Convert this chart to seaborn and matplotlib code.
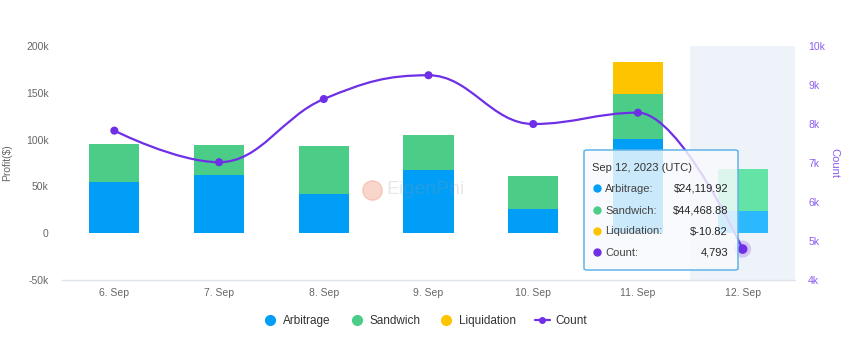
import numpy as np
import pandas as pd
import matplotlib
matplotlib.use("Agg")
import matplotlib.pyplot as plt
import seaborn as sns
from matplotlib.path import Path
from matplotlib.patches import PathPatch, FancyBboxPatch, Rectangle
from matplotlib.lines import Line2D

# ---------------- data ----------------
days = ["6. Sep", "7. Sep", "8. Sep", "9. Sep", "10. Sep", "11. Sep", "12. Sep"]
arbitrage = [55000, 61700, 41800, 67500, 25700, 100700, 24119.92]
sandwich = [39900, 32600, 51400, 37800, 35000, 48300, 44468.88]
liquidation = [0, 0, 0, 0, 0, 34200, -10.82]
count = [7830, 7020, 8640, 9250, 8000, 8290, 4793]
profit_ticks = [-50000, 0, 50000, 100000, 150000, 200000]
profit_tick_labels = ["-50k", "0", "50k", "100k", "150k", "200k"]
count_ticks = [4000, 5000, 6000, 7000, 8000, 9000, 10000]
count_tick_labels = ["4k", "5k", "6k", "7k", "8k", "9k", "10k"]
tooltip_title = "Sep 12, 2023 (UTC)"
tooltip_labels = ["Arbitrage:", "Sandwich:", "Liquidation:", "Count:"]
tooltip_values = ["$24,119.92", "$44,468.88", "$-10.82", "4,793"]

# ---------------- style ----------------
sns.set_theme(style="white")
plt.rcParams["font.family"] = ["Liberation Sans", "DejaVu Sans"]

C_ARB = "#019ef7"
C_SAND = "#4bcd88"
C_LIQ = "#fec400"
C_CNT = "#6f2fe6"
C_ARB_H = "#2cb8fc"
C_SAND_H = "#64e3a6"
GRAY = "#666666"

W, H = 850, 342
fig = plt.figure(figsize=(W / 100, H / 100), dpi=100)
fx = lambda px: px / W
fy = lambda py: 1 - py / H
ax = fig.add_axes([fx(62), fy(280), fx(795) - fx(62), fy(46) - fy(280)])

df = pd.DataFrame({"day": days,
                   "arb": arbitrage,
                   "sand": np.array(arbitrage) + np.array(sandwich),
                   "liq": np.array(arbitrage) + np.array(sandwich) + np.array(liquidation)})

bw = 0.48
sns.barplot(data=df, x="day", y="liq", color=C_LIQ, width=bw, ax=ax, saturation=1, zorder=2)
sns.barplot(data=df, x="day", y="sand", color=C_SAND, width=bw, ax=ax, saturation=1, zorder=3)
sns.barplot(data=df, x="day", y="arb", color=C_ARB, width=bw, ax=ax, saturation=1, zorder=4)
n = len(days)
for p in ax.patches:
    if not isinstance(p, Rectangle):
        continue
    p.set_linewidth(0)
    cx = p.get_x() + p.get_width() / 2
    if abs(cx - (n - 1)) < 0.01:
        fc = matplotlib.colors.to_hex(p.get_facecolor())
        if fc == C_SAND:
            p.set_facecolor(C_SAND_H)
        elif fc == C_ARB:
            p.set_facecolor(C_ARB_H)

# hover band
ax.axvspan(n - 1.5, n - 0.5, color="#eef2f9", zorder=0, lw=0)

ax.set_xlim(-0.5, n - 0.5)
ax.set_ylim(-50000, 200000)
ax.set_yticks(profit_ticks)
ax.set_yticklabels(profit_tick_labels)
ax.set_xlabel("")
ax.set_ylabel("Profit($)", color=GRAY, fontsize=7.5)
ax.yaxis.set_label_coords(-0.068, 0.5)
ax.tick_params(axis="y", length=0, pad=9.5, labelsize=7.5, labelcolor=GRAY)
ax.tick_params(axis="x", length=0, pad=6, labelsize=7.5, labelcolor=GRAY)
for s in ["top", "left", "right"]:
    ax.spines[s].set_visible(False)
ax.spines["bottom"].set_color("#dfe3ea")
ax.spines["bottom"].set_linewidth(1)

# ---------------- count line (secondary axis) ----------------
ax2 = ax.twinx()
ax2.set_ylim(4000, 10000)
ax2.set_yticks(count_ticks)
ax2.set_yticklabels(count_tick_labels)
ax2.tick_params(axis="y", length=0, pad=9.5, labelsize=7.5, labelcolor="#8a5cf0")
for s in ["top", "left", "right", "bottom"]:
    ax2.spines[s].set_visible(False)
ax2.set_ylabel("Count", color="#8a5cf0", fontsize=8, rotation=270)
ax2.yaxis.set_label_coords(1.06, 0.5)

xs = np.arange(n, dtype=float)
ys = np.array(count, dtype=float)

def spline_path(xs, ys, smoothing=1.5):
    denom = smoothing + 1
    m = len(xs)
    lc = [None] * m
    rc = [None] * m
    for i in range(1, m - 1):
        px, py = xs[i], ys[i]
        lx, ly = xs[i - 1], ys[i - 1]
        nx, ny = xs[i + 1], ys[i + 1]
        lcx = (smoothing * px + lx) / denom
        lcy = (smoothing * py + ly) / denom
        rcx = (smoothing * px + nx) / denom
        rcy = (smoothing * py + ny) / denom
        if rcx != lcx:
            corr = ((rcy - lcy) * (rcx - px)) / (rcx - lcx) + py - rcy
            lcy += corr
            rcy += corr
        if lcy > ly and lcy > py:
            lcy = max(ly, py); rcy = 2 * py - lcy
        elif lcy < ly and lcy < py:
            lcy = min(ly, py); rcy = 2 * py - lcy
        if rcy > ny and rcy > py:
            rcy = max(ny, py); lcy = 2 * py - rcy
        elif rcy < ny and rcy < py:
            rcy = min(ny, py); lcy = 2 * py - rcy
        lc[i] = (lcx, lcy)
        rc[i] = (rcx, rcy)
    verts = [(xs[0], ys[0])]
    codes = [Path.MOVETO]
    for i in range(1, m):
        c1 = rc[i - 1] if rc[i - 1] is not None else (xs[i - 1], ys[i - 1])
        c2 = lc[i] if lc[i] is not None else (xs[i], ys[i])
        verts += [c1, c2, (xs[i], ys[i])]
        codes += [Path.CURVE4] * 3
    return Path(verts, codes)

ax2.add_patch(PathPatch(spline_path(xs, ys), fill=False, edgecolor=C_CNT, lw=1.6, zorder=5))
sns.scatterplot(x=xs[:-1], y=ys[:-1], color=C_CNT, s=34, edgecolor="none", ax=ax2, zorder=6)
ax2.scatter([xs[-1]], [ys[-1]], s=150, color=C_CNT, alpha=0.22, edgecolor="none", zorder=6)
ax2.scatter([xs[-1]], [ys[-1]], s=48, color=C_CNT, edgecolor="none", zorder=7)

# ---------------- watermark ----------------
fig.add_artist(Line2D([fx(372)], [fy(190)], marker="o", markersize=14, color="#f08a6a",
                      alpha=0.35, linestyle="none", transform=fig.transFigure, zorder=10))
fig.text(fx(386), fy(190), "EigenPhi", fontsize=14, color="#999999", alpha=0.22,
         va="center", ha="left", zorder=10)

# ---------------- tooltip ----------------
box = FancyBboxPatch((fx(584), fy(270)), fx(738) - fx(584), fy(150) - fy(270),
                     boxstyle="round,pad=0,rounding_size=0.004", transform=fig.transFigure,
                     facecolor="#f8fafd", alpha=0.82, edgecolor="none", zorder=20)
fig.add_artist(box)
border = FancyBboxPatch((fx(584), fy(270)), fx(738) - fx(584), fy(150) - fy(270),
                        boxstyle="round,pad=0,rounding_size=0.004", transform=fig.transFigure,
                        facecolor="none", edgecolor="#62b4e6", lw=1.1, zorder=21)
fig.add_artist(border)
fig.text(fx(592), fy(167), tooltip_title, fontsize=8, color="#333333", va="center_baseline",
         ha="left", zorder=22)
row_y = [187.5, 209.5, 230.5, 251.5]
row_c = [C_ARB, C_SAND, C_LIQ, C_CNT]
for yy, lab, val, col in zip(row_y, tooltip_labels, tooltip_values, row_c):
    fig.add_artist(Line2D([fx(597)], [fy(yy)], marker="o", markersize=5, color=col,
                          linestyle="none", transform=fig.transFigure, zorder=22))
    fig.text(fx(605), fy(yy), lab, fontsize=8, color="#444444", va="center_baseline",
             ha="left", zorder=22)
    fig.text(fx(728), fy(yy), val, fontsize=8, color="#222222", va="center_baseline",
             ha="right", zorder=22)

# ---------------- legend ----------------
handles = [
    Line2D([], [], marker="o", linestyle="none", color=C_ARB, markersize=7),
    Line2D([], [], marker="o", linestyle="none", color=C_SAND, markersize=7),
    Line2D([], [], marker="o", linestyle="none", color=C_LIQ, markersize=7),
    Line2D([], [], marker="o", linestyle="-", color=C_CNT, markersize=4, lw=1.6),
]
fig.legend(handles, ["Arbitrage", "Sandwich", "Liquidation", "Count"], loc="center",
           bbox_to_anchor=(0.5, fy(321)), ncol=4, frameon=False, fontsize=8.5,
           handlelength=1.2, handletextpad=0.5, columnspacing=1.6, labelcolor="#333333")

fig.savefig("out.png", dpi=100)
